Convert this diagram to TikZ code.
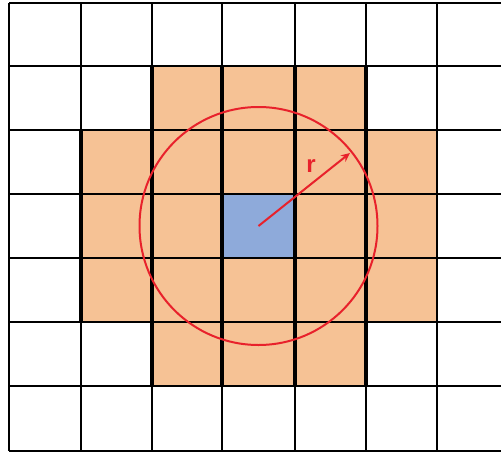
\documentclass[tikz,border=0pt]{standalone}
\usepackage{fontspec}
\setmainfont{Liberation Sans}
\usetikzlibrary{arrows.meta}
\definecolor{cellorange}{HTML}{F6C295}
\definecolor{cellblue}{HTML}{8EAADA}
\definecolor{circred}{HTML}{E8212B}
\tikzset{
  gridline/.style={line width=2.2pt, black},
  thickline/.style={line width=3.4pt, black},
  orangecell/.style={fill=cellorange},
  bluecell/.style={fill=cellblue},
  radiuscircle/.style={circred, line width=2pt},
  radiusarrow/.style={circred, line width=2pt, -{Stealth[length=9pt,width=8pt]}},
  radiuslabel/.style={text=circred, font=\bfseries\fontsize{24}{26}\selectfont, inner sep=0pt}
}
\begin{document}
\begin{tikzpicture}[x=1pt,y=-1pt]
\useasboundingbox (0,0) rectangle (501,453);
\fill[white] (0,0) rectangle (501,453);
% column edges: 9,81,152,222,295,366,437,501 ; row edges: 3,66,130,194,258,322,386,451
% row 1
\fill[orangecell] (152,66) rectangle (366,130);
% row 2
\fill[orangecell] (81,130) rectangle (437,194);
% row 3
\fill[orangecell] (81,194) rectangle (437,258);
\fill[bluecell] (222,194) rectangle (295,258);
% row 4
\fill[orangecell] (81,258) rectangle (437,322);
% row 5
\fill[orangecell] (152,322) rectangle (366,386);
% grid lines
\foreach \x in {9,81,152,222,295,366,437}
  \draw[gridline] (\x,3) -- (\x,451);
\foreach \y in {3,66,130,194,258,322,386,451}
  \draw[gridline] (9,\y) -- (501,\y);
% thicker boundaries around the shaded region
\draw[thickline] (152,66) -- (152,386);
\draw[thickline] (222,66) -- (222,386);
\draw[thickline] (295,66) -- (295,386);
\draw[thickline] (366,66) -- (366,386);
\draw[thickline] (81,130) -- (81,322);
% circle and radius
\coordinate (c) at (258.5,226);
\coordinate (e) at (350,153);
\draw[radiuscircle] (c) circle[radius=119];
\draw[radiusarrow] (c) -- (e);
\node[radiuslabel] (r) at (311,166) {r};
\end{tikzpicture}
\end{document}
